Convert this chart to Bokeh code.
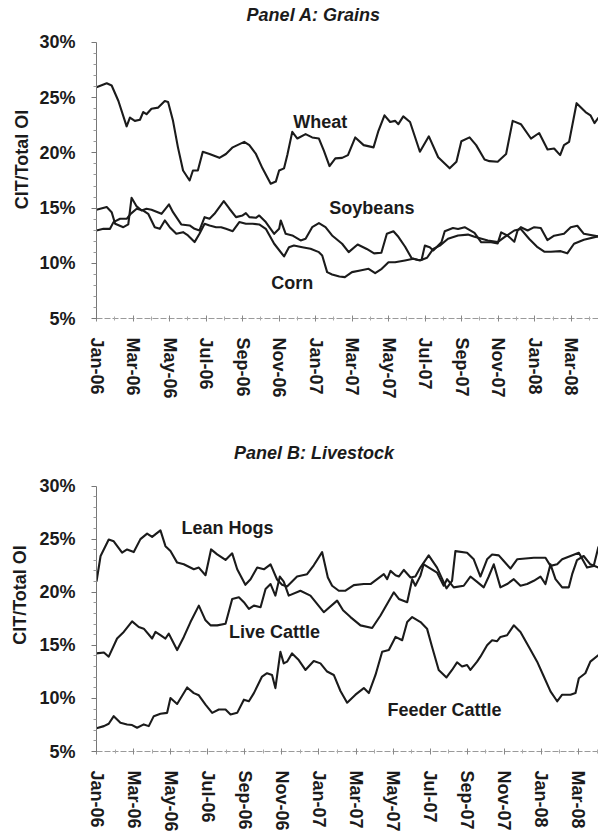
from bokeh.plotting import figure
from bokeh.models import FixedTicker, Range1d
from bokeh.layouts import column
from bokeh.embed import file_html
from bokeh.resources import INLINE
from bokeh.core.properties import value

# ---------------- data (x = months since 1 Jan 2006, y = CIT / total OI in %) -------------
month_ticks = list(range(0, 27, 2))
month_labels = ["Jan-06", "Mar-06", "May-06", "Jul-06", "Sep-06", "Nov-06", "Jan-07",
                "Mar-07", "May-07", "Jul-07", "Sep-07", "Nov-07", "Jan-08", "Mar-08"]
minor_months = list(range(1, 28, 2))
pct_ticks = [5, 10, 15, 20, 25, 30]
pct_labels = ["5%", "10%", "15%", "20%", "25%", "30%"]

wheat_m = [0, 0.56, 0.83, 1.20, 1.65, 1.83, 2.10, 2.38, 2.56, 2.74, 3.01, 3.38, 3.74, 3.92, 4.19,
           4.46, 4.74, 5.10, 5.28, 5.55, 5.82, 6.19, 6.73, 7.09, 7.46, 8.09, 8.37, 8.73, 9.09, 9.54,
           9.82, 10.0, 10.27, 10.45, 10.72, 11.0, 11.45, 11.81, 12.18, 12.45, 12.76, 13.08, 13.45, 13.77, 14.17,
           14.63, 15.17, 15.44, 15.77, 16.08, 16.35, 16.53, 16.80, 17.17, 17.71, 18.20, 18.71, 19.34, 19.71, 19.98,
           20.43, 20.79, 21.25, 21.52, 21.97, 22.43, 22.79, 23.24, 23.79, 24.24, 24.70, 25.06, 25.39, 25.60, 25.88,
           26.29, 26.78, 27.05, 27.27, 27.49]
wheat_v = [25.95, 26.3, 26.1, 24.7, 22.4, 23.2, 22.9, 23.0, 23.7, 23.5, 24.0, 24.1, 24.7, 24.6, 22.9,
           20.5, 18.4, 17.5, 18.4, 18.4, 20.1, 19.9, 19.55, 19.9, 20.5, 21.0, 20.7, 19.9, 18.6, 17.2,
           17.4, 18.4, 18.6, 19.8, 21.9, 21.3, 21.7, 21.4, 21.3, 20.2, 18.8, 19.5, 19.55, 19.8, 21.4,
           20.7, 20.5, 22.0, 23.4, 22.8, 22.9, 22.6, 23.3, 22.8, 20.1, 21.5, 19.6, 18.6, 19.2, 21.05,
           21.4, 20.7, 19.4, 19.25, 19.2, 19.9, 22.9, 22.6, 21.3, 21.8, 20.3, 20.4, 19.8, 20.7, 21.0,
           24.5, 23.7, 23.4, 22.7, 23.2]

soy_m = [0, 0.56, 0.83, 1.02, 1.47, 1.74, 1.92, 2.20, 2.47, 2.74, 3.01, 3.56, 3.97, 4.19, 4.64,
         5.10, 5.37, 5.64, 5.92, 6.19, 6.46, 6.97, 7.28, 7.64, 8.0, 8.18, 8.37, 8.73, 8.91, 9.27,
         9.73, 10.0, 10.09, 10.36, 10.72, 11.18, 11.45, 11.81, 12.18, 12.54, 12.90, 13.45, 13.81, 14.3, 14.8,
         15.2, 15.6, 15.9, 16.26, 16.53, 16.9, 17.26, 17.62, 17.8, 17.98, 18.25, 18.44, 18.89, 19.07, 19.52,
         19.8, 20.16, 20.7, 21.07, 21.61, 21.97, 22.16, 22.52, 22.88, 23.06, 23.24, 23.61, 23.97, 24.33, 24.69,
         25.06, 25.6, 25.97, 26.33, 26.69, 27.49]
soy_v = [14.85, 15.09, 14.63, 13.58, 13.27, 13.52, 15.93, 15.15, 14.78, 14.94, 14.85, 14.48, 15.33, 14.63, 13.52,
         13.43, 13.12, 12.97, 14.18, 14.03, 14.48, 15.63, 14.94, 14.18, 14.33, 14.54, 14.18, 14.12, 14.33, 13.73,
         12.67, 13.12, 13.88, 12.67, 12.52, 12.07, 12.22, 13.27, 13.64, 13.27, 12.52, 11.77, 11.01, 11.7, 11.3,
         10.9, 10.95, 12.67, 12.9, 12.4, 11.5, 10.45, 10.3, 10.3, 11.6, 11.46, 11.16, 11.9, 12.9, 13.2,
         13.1, 13.27, 12.75, 11.9, 11.9, 11.8, 12.8, 12.5, 11.95, 12.97, 13.27, 12.97, 13.27, 13.2, 12.1,
         12.5, 12.67, 13.27, 13.4, 12.67, 12.43]

corn_m = [0, 0.38, 0.74, 0.93, 1.29, 1.65, 1.87, 2.2, 2.56, 2.83, 3.19, 3.47, 3.74, 4.01, 4.37,
          4.74, 5.01, 5.37, 5.64, 5.92, 6.19, 6.55, 6.82, 7.09, 7.46, 7.82, 8.18, 8.55, 8.91, 9.27,
          9.73, 10.27, 10.54, 10.81, 11.27, 11.72, 12.18, 12.36, 12.63, 12.9, 13.3, 13.6, 13.99, 14.44, 14.9,
          15.26, 15.62, 15.99, 16.35, 16.89, 17.35, 17.71, 18.1, 18.44, 18.8, 19.25, 19.8, 20.34, 20.7, 21.43,
          21.97, 22.34, 22.88, 23.24, 23.7, 24.15, 24.52, 24.88, 25.42, 25.78, 26.15, 26.69, 27.49]
corn_v = [12.97, 13.12, 13.12, 13.73, 14.03, 14.03, 14.48, 14.94, 14.78, 14.48, 13.27, 13.12, 13.88, 13.27, 12.67,
          12.82, 12.52, 11.92, 12.67, 13.58, 13.43, 13.27, 13.27, 13.12, 12.91, 13.73, 13.58, 13.58, 13.52, 13.12,
          11.77, 10.62, 11.46, 11.61, 11.46, 11.31, 11.01, 10.71, 9.2, 8.99, 8.8, 8.75, 9.2, 9.35, 9.5,
          9.11, 9.5, 10.1, 10.1, 10.26, 10.41, 10.26, 10.5, 11.3, 11.6, 12.22, 12.52, 12.6, 12.4, 12.07,
          11.92, 12.37, 12.97, 13.1, 12.2, 11.46, 11.05, 11.05, 11.1, 10.9, 11.77, 12.13, 12.45]

hogs_m = [0, 0.22, 0.66, 0.93, 1.38, 1.65, 2.01, 2.37, 2.73, 3.0, 3.45, 3.72, 3.99, 4.35, 4.71,
          5.25, 5.52, 5.88, 6.18, 6.51, 6.96, 7.32, 7.59, 8.03, 8.31, 8.67, 9.03, 9.39, 9.74, 10.01,
          10.28, 10.82, 11.36, 11.72, 12.17, 12.48, 12.71, 13.07, 13.43, 13.88, 14.42, 14.78, 15.14, 15.5, 15.68,
          15.86, 16.13, 16.31, 16.58, 16.94, 17.2, 17.47, 17.92, 18.37, 18.88, 19.18, 19.36, 19.99, 20.35, 20.71,
          21.07, 21.34, 21.7, 21.97, 22.33, 22.69, 23.59, 24.22, 24.49, 24.85, 25.12, 25.57, 26.02, 26.46, 26.82,
          27.08]
hogs_v = [21.0, 23.41, 24.96, 24.8, 23.72, 24.03, 23.78, 25.0, 25.52, 25.21, 25.83, 24.34, 23.88, 22.79, 22.63,
          22.16, 22.32, 21.6, 24.03, 23.56, 23.04, 23.66, 22.16, 20.7, 21.23, 22.32, 22.16, 22.63, 21.2, 20.7,
          20.55, 21.48, 21.7, 22.54, 23.78, 21.39, 20.61, 20.14, 20.14, 20.67, 20.77, 20.77, 21.23, 21.7, 21.23,
          22.01, 21.6, 21.48, 22.1, 21.39, 21.48, 22.32, 23.47, 22.32, 20.36, 21.08, 23.87, 23.72, 23.1, 21.48,
          23.1, 23.56, 23.47, 22.94, 22.23, 23.1, 23.25, 23.25, 22.48, 22.63, 23.1, 23.41, 23.72, 22.32, 22.48,
          24.3]

live_m = [0, 0.4, 0.66, 1.11, 1.47, 1.92, 2.28, 2.55, 3.0, 3.18, 3.45, 3.72, 3.9, 4.08, 4.35,
          4.71, 5.07, 5.52, 5.88, 6.15, 6.51, 6.96, 7.32, 7.68, 7.95, 8.22, 8.49, 8.85, 9.12, 9.39,
          9.65, 9.89, 10.1, 10.37, 11.0, 11.54, 12.26, 12.98, 13.3, 13.7, 14.24, 14.87, 15.32, 16.04, 16.31,
          16.76, 17.03, 17.2, 17.47, 17.65, 18.37, 18.73, 18.91, 19.27, 19.81, 20.17, 20.53, 20.89, 21.16, 21.43,
          21.79, 22.15, 22.51, 22.87, 23.23, 23.59, 23.95, 24.22, 24.49, 24.76, 25.12, 25.48, 25.66, 25.92, 26.28,
          26.64, 27.08]
live_v = [14.24, 14.33, 13.93, 15.64, 16.26, 17.25, 16.73, 16.57, 15.64, 16.26, 15.95, 15.64, 16.1, 15.48, 14.55,
          15.79, 17.19, 18.74, 17.35, 16.88, 16.88, 17.03, 19.37, 19.52, 19.06, 18.43, 18.74, 18.59, 20.3, 20.77,
          19.68, 21.48, 21.0, 19.68, 20.14, 19.68, 18.12, 19.21, 18.3, 17.66, 16.88, 16.63, 17.81, 19.99, 19.37,
          19.06, 21.23, 20.61, 21.54, 22.63, 21.85, 20.61, 21.23, 20.46, 20.61, 21.48, 20.98, 20.46, 21.48, 22.63,
          20.46, 20.77, 21.23, 20.61, 20.77, 21.08, 21.48, 20.77, 22.63, 21.23, 20.46, 20.46, 21.7, 23.03, 23.41,
          22.63, 22.32]

feeder_m = [0, 0.4, 0.66, 0.93, 1.29, 1.65, 1.92, 2.19, 2.55, 2.82, 3.09, 3.45, 3.81, 3.99, 4.35,
            4.89, 5.25, 5.52, 5.88, 6.24, 6.6, 6.96, 7.23, 7.59, 7.95, 8.22, 8.49, 8.93, 9.2, 9.47,
            9.65, 9.92, 10.1, 10.28, 10.55, 10.91, 11.27, 11.72, 12.08, 12.44, 12.8, 13.16, 13.52, 13.97, 14.42,
            14.69, 15.05, 15.41, 15.77, 16.13, 16.49, 16.76, 17.03, 17.48, 17.83, 18.1, 18.46, 18.88, 19.18, 19.45,
            19.72, 19.99, 20.17, 20.53, 20.71, 21.07, 21.34, 21.61, 21.79, 22.15, 22.51, 22.87, 23.32, 23.77, 24.13,
            24.49, 24.85, 25.12, 25.57, 25.84, 26.02, 26.37, 26.64, 27.08]
feeder_v = [7.2, 7.39, 7.61, 8.33, 7.7, 7.55, 7.49, 7.24, 7.55, 7.39, 8.33, 8.55, 8.64, 10.04, 9.48,
            11.03, 10.5, 10.29, 9.42, 8.64, 8.95, 8.95, 8.48, 8.64, 9.88, 9.73, 10.5, 12.06, 12.37, 12.21,
            10.97, 14.39, 13.3, 13.46, 14.24, 13.61, 12.68, 13.52, 13.3, 12.53, 12.21, 10.7, 9.6, 10.35, 10.97,
            10.5, 12.21, 14.39, 14.55, 15.79, 15.48, 17.19, 17.66, 17.19, 16.57, 14.86, 12.68, 11.97, 12.68, 13.4,
            13.0, 13.15, 12.68, 13.46, 13.93, 15.01, 15.48, 15.39, 15.79, 15.95, 16.88, 16.26, 14.86, 13.46, 12.06,
            10.66, 9.73, 10.35, 10.35, 10.5, 11.9, 12.37, 13.46, 14.08]

# ---------------- styling ----------------
FONT = "Liberation Sans"
INK = "#1b1b1b"


def make_panel(height, border_bottom, border_left, xmax, ytop,
               ylab_standoff, title, title_xy, series, labels):
    # the frame runs up to the top of the figure; the y axis line stops at 30 %
    p = figure(width=598, height=height, x_range=Range1d(0, xmax), y_range=Range1d(5, ytop),
               output_backend="svg", toolbar_location=None,
               min_border_left=border_left, min_border_right=0,
               min_border_top=0, min_border_bottom=border_bottom)
    p.outline_line_color = None
    p.xgrid.visible = False
    p.ygrid.visible = False
    p.background_fill_color = "white"
    p.border_fill_color = "white"

    for xs, ys in series:
        p.line(xs, ys, line_color=INK, line_width=2.1, line_join="round")

    lx, ly, lt = labels
    p.text(x=lx, y=ly, text=lt, text_font=value(FONT), text_font_style="bold",
           text_font_size="18px", text_align="center", text_baseline="middle", text_color=INK)

    # panel title
    p.text(x=[title_xy[0]], y=[title_xy[1]], text=[title], text_font=value(FONT),
           text_font_style="bold italic", text_font_size="18px",
           text_align="center", text_baseline="middle", text_color=INK)

    # y axis
    ya = p.yaxis[0]
    ya.bounds = (5, 30)
    ya.ticker = FixedTicker(ticks=pct_ticks,
                            minor_ticks=[v for v in range(5, 31) if v % 5 != 0])
    ya.major_label_overrides = dict(zip(pct_ticks, pct_labels))
    ya.axis_label = "CIT/Total OI"
    ya.axis_label_text_font = FONT
    ya.axis_label_text_font_style = "bold"
    ya.axis_label_text_font_size = "18px"
    ya.axis_label_text_color = INK
    ya.axis_label_standoff = ylab_standoff
    ya.major_label_text_font = FONT
    ya.major_label_text_font_style = "bold"
    ya.major_label_text_font_size = "18px"
    ya.major_label_text_color = INK
    ya.major_label_standoff = 16
    ya.axis_line_color = "#777777"
    ya.major_tick_line_color = "#777777"
    ya.minor_tick_line_color = "#999999"
    ya.major_tick_out = 5
    ya.major_tick_in = 0
    ya.minor_tick_out = 3
    ya.minor_tick_in = 0

    # x axis
    xa = p.xaxis[0]
    xa.ticker = FixedTicker(ticks=month_ticks, minor_ticks=minor_months)
    xa.major_label_overrides = dict(zip(month_ticks, month_labels))
    xa.major_label_orientation = "vertical"
    xa.major_label_text_font = FONT
    xa.major_label_text_font_style = "bold"
    xa.major_label_text_font_size = "18px"
    xa.major_label_text_color = INK
    xa.major_label_standoff = 16
    xa.axis_line_color = "#9a9a9a"
    xa.axis_line_dash = "6 2"
    xa.major_tick_line_color = "#888888"
    xa.minor_tick_line_color = "#aaaaaa"
    xa.major_tick_in = 3
    xa.major_tick_out = 3
    xa.minor_tick_in = 2
    xa.minor_tick_out = 2
    return p


pA = make_panel(438, 120, 93, 27.49, 33.80, 4, "Panel A: Grains", (11.89, 32.45),
                [(wheat_m, wheat_v), (soy_m, soy_v), (corn_m, corn_v)],
                ([12.25, 15.08, 10.72], [22.84, 15.05, 8.17], ["Wheat", "Soybeans", "Corn"]))

pB = make_panel(396, 80, 96, 27.08, 34.478, 6, "Panel B: Livestock", (11.73, 33.08),
                [(hogs_m, hogs_v), (live_m, live_v), (feeder_m, feeder_v)],
                ([7.07, 9.6, 18.77], [26.08, 16.29, 8.92], ["Lean Hogs", "Live Cattle", "Feeder Cattle"]))

layout = column(pA, pB, spacing=0)
open("out.html", "w").write(file_html(layout, INLINE))
